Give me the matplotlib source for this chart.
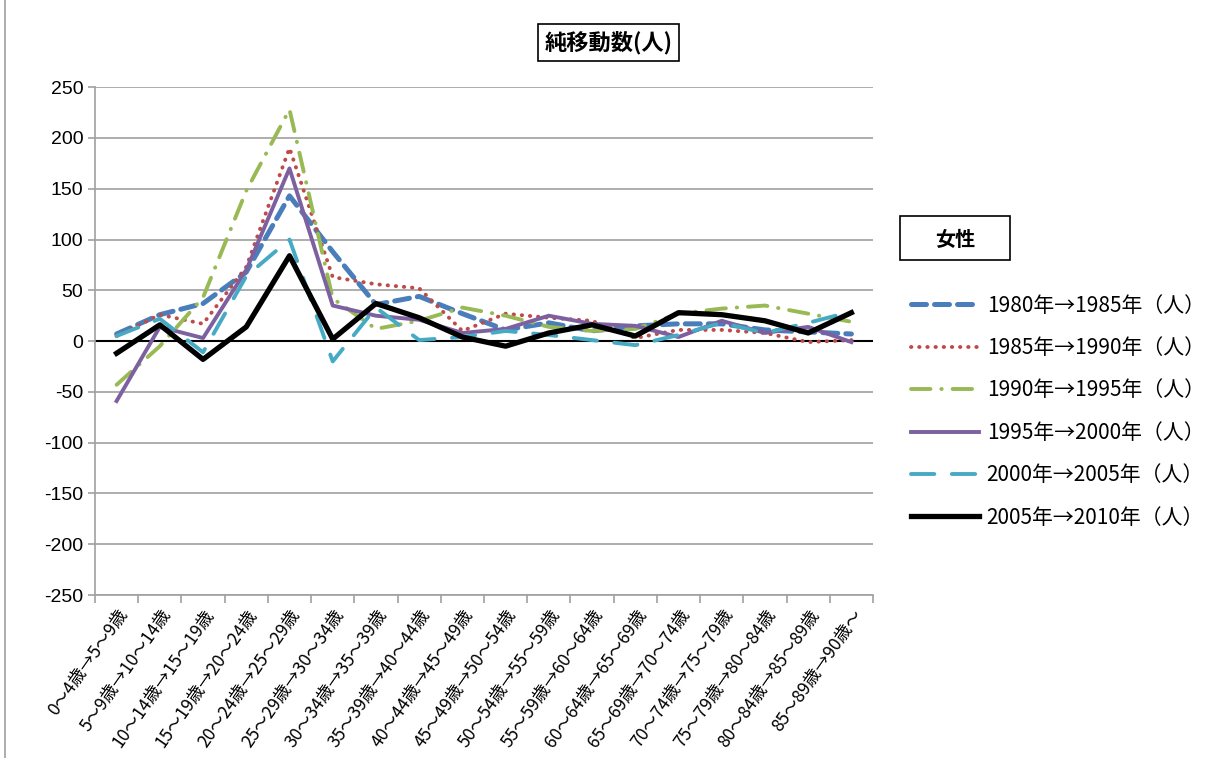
import numpy as np
import matplotlib.pyplot as plt
from matplotlib.lines import Line2D
from matplotlib.patches import Rectangle

plt.rcParams['font.family'] = ['Noto Sans CJK JP', 'DejaVu Sans']
plt.rcParams['axes.unicode_minus'] = False

ages = ['0～4歳→5～9歳', '5～9歳→10～14歳', '10～14歳→15～19歳', '15～19歳→20～24歳',
        '20～24歳→25～29歳', '25～29歳→30～34歳', '30～34歳→35～39歳', '35～39歳→40～44歳',
        '40～44歳→45～49歳', '45～49歳→50～54歳', '50～54歳→55～59歳', '55～59歳→60～64歳',
        '60～64歳→65～69歳', '65～69歳→70～74歳', '70～74歳→75～79歳', '75～79歳→80～84歳',
        '80～84歳→85～89歳', '85～89歳→90歳～']

s1980 = [7, 26, 37, 68, 143, 88, 36, 44, 27, 11, 18, 10, 15, 17, 17, 11, 9, 7]
s1985 = [5, 26, 17, 73, 190, 63, 56, 52, 10, 27, 23, 20, 3, 11, 11, 8, -1, 1]
s1990 = [-43, -5, 43, 148, 228, 42, 12, 20, 33, 25, 14, 10, 12, 27, 32, 35, 27, 19]
s1995 = [-59, 14, 3, 70, 170, 35, 25, 21, 8, 12, 25, 17, 15, 4, 20, 8, 14, -1]
s2000 = [5, 22, -11, 64, 100, -20, 33, 1, 4, 10, 6, 1, -4, 6, 18, 8, 18, 29]
s2005 = [-12, 16, -18, 14, 84, 2, 37, 23, 4, -5, 8, 16, 5, 28, 26, 20, 8, 28]

labels = ['1980年→1985年（人）', '1985年→1990年（人）', '1990年→1995年（人）',
          '1995年→2000年（人）', '2000年→2005年（人）', '2005年→2010年（人）']

fig = plt.figure(figsize=(12.1, 7.58), dpi=100)
ax = fig.add_axes([0.0785, 0.215, 0.643, 0.67])

x = np.arange(len(ages))
ax.plot(x, s1980, color='#4A7EBB', lw=3.6, dashes=(3, 1.6), dash_capstyle='round',
        label=labels[0])
ax.plot(x, s1985, color='#BE4B48', lw=2.8, dashes=(0.1, 2.0), dash_capstyle='round',
        label=labels[1])
ax.plot(x, s1990, color='#98B954', lw=2.8, dashes=(5, 2.8, 0.1, 2.8), dash_capstyle='round',
        label=labels[2])
ax.plot(x, s1995, color='#7D60A0', lw=2.8, label=labels[3])
ax.plot(x, s2000, color='#46AAC5', lw=2.8, dashes=(6, 4.5), dash_capstyle='round',
        label=labels[4])
ax.plot(x, s2005, color='black', lw=3.8, label=labels[5])

ax.axhline(0, color='black', lw=1.5, zorder=1)
ax.set_ylim(-250, 250)
ax.set_yticks(np.arange(-250, 251, 50))
ax.set_xlim(-0.5, len(ages) - 0.5)
ax.yaxis.grid(True, color='#A0A0A0', lw=1.2)
ax.set_axisbelow(True)
for side in ['top', 'right']:
    ax.spines[side].set_visible(False)
ax.spines['left'].set_color('#A0A0A0')
ax.spines['bottom'].set_color('#A0A0A0')
ax.spines['left'].set_linewidth(1.2)
ax.spines['bottom'].set_linewidth(1.2)

ax.set_xticks(x)
ax.set_xticklabels(ages, rotation=55, ha='right', rotation_mode='anchor', fontsize=12.5)
ax.tick_params(axis='x', length=0, pad=8)
ax.set_xticks(np.arange(-0.5, len(ages), 1), minor=True)
ax.tick_params(axis='x', which='minor', length=6, color='#A0A0A0', width=1.2)
ax.tick_params(axis='y', length=5, color='#A0A0A0', width=1.2, labelsize=14, direction='out')
for t in ax.get_yticklabels():
    t.set_fontfamily(['Liberation Sans'])

fig.text(0.503, 0.944, '純移動数(人)', ha='center', va='center', fontsize=16, fontweight='bold',
         bbox=dict(boxstyle='square,pad=0.3', fc='white', ec='black', lw=1.2))
fig.add_artist(Rectangle((900 / 1210, 1 - 260 / 758), 110 / 1210, 44 / 758,
                         transform=fig.transFigure, fc='white', ec='black', lw=1.2))
fig.text(955 / 1210, 1 - 239 / 758, '女性', ha='center', va='center', fontsize=14.5,
         fontweight='bold')

leg = ax.legend(loc='upper left', bbox_to_anchor=(0.744, 0.625), bbox_transform=fig.transFigure,
                frameon=False, fontsize=15, handlelength=3.3, labelspacing=0.98,
                handletextpad=0.35, borderpad=0)

fig.add_artist(Line2D([5 / 1210, 5 / 1210], [0, 1], color='#A0A0A0', lw=1.2,
                      transform=fig.transFigure))

fig.savefig('out.png', dpi=100)
